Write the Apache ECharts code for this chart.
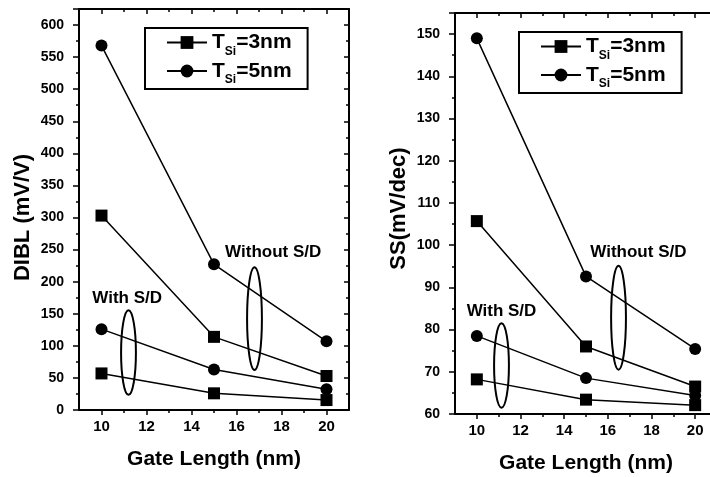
<!DOCTYPE html>
<html>
<head>
<meta charset="utf-8">
<script src="https://cdn.jsdelivr.net/npm/echarts@6/dist/echarts.min.js"></script>
<style>
  html, body { margin: 0; padding: 0; background: #fff; }
  #chart { width: 710px; height: 477px; }
</style>
</head>
<body>
<div id="chart"></div>
<script>
// ─── data ───
const gateLength = [10, 15, 20];

// DIBL (mV/V)
const dibl3NoSD = [303, 114, 53];
const dibl5NoSD = [568, 227, 107];
const dibl3SD = [57, 26, 15.5];
const dibl5SD = [126, 63, 32.5];

// SS (mV/dec)
const ss3NoSD = [105.7, 76, 66.5];
const ss5NoSD = [149, 92.6, 75.4];
const ss3SD = [68.2, 63.4, 62.1];
const ss5SD = [78.5, 68.5, 64.4];

const xMajorTicks = [10, 12, 14, 16, 18, 20];
const xMinorTicks = [11, 13, 15, 17, 19];

const seriesNames = ['TSi=3nm', 'TSi=5nm'];

// annotations (data coordinates): [x, y, text] and ovals [x, y, rx, ry]
const diblNotes = [[17.63, 246, 'Without S/D'], [11.14, 174, 'With S/D']];
const diblOvals = [[16.8, 142.5, 0.33, 80], [11.2, 89.6, 0.33, 66]];
const ssNotes = [[17.4, 98.2, 'Without S/D'], [11.13, 84.4, 'With S/D']];
const ssOvals = [[16.49, 82.8, 0.34, 12.3], [11.13, 71.5, 0.34, 10]];

// ─── style ───
const FONT = "'Liberation Sans', Arial, sans-serif";
const BLACK = '#000000';

const pairs = (ys) => gateLength.map((x, i) => [x, ys[i]]);

function xAxesFor(gi, name) {
  const base = { gridIndex: gi, type: 'value', min: 9, max: 21, splitLine: { show: false } };
  return [
    {
      ...base, position: 'bottom',
      name, nameLocation: 'middle', nameGap: 39,
      nameTextStyle: { fontFamily: FONT, fontWeight: 'bold', fontSize: 21, color: BLACK },
      axisLine: { lineStyle: { color: BLACK, width: 2 } },
      axisTick: { customValues: xMajorTicks, length: 5, lineStyle: { color: BLACK, width: 1.5 } },
      axisLabel: { customValues: xMajorTicks, margin: 9, fontFamily: FONT, fontWeight: 'bold', fontSize: 15, color: BLACK },
    },
    {
      ...base, position: 'bottom',
      axisLine: { show: false },
      axisTick: { customValues: xMinorTicks, length: 3, lineStyle: { color: BLACK, width: 1.5 } },
      axisLabel: { show: false },
    },
    {
      ...base, position: 'top',
      axisLine: { lineStyle: { color: BLACK, width: 2 } },
      axisTick: { inside: true, customValues: xMajorTicks, length: 5, lineStyle: { color: BLACK, width: 1.5 } },
      axisLabel: { show: false },
    },
    {
      ...base, position: 'top',
      axisLine: { show: false },
      axisTick: { inside: true, customValues: xMinorTicks, length: 3, lineStyle: { color: BLACK, width: 1.5 } },
      axisLabel: { show: false },
    },
  ];
}

function yAxesFor(gi, name, min, max, interval, namePad) {
  const base = { gridIndex: gi, type: 'value', min, max, interval, splitLine: { show: false } };
  return [
    {
      ...base, position: 'left',
      name, nameLocation: 'middle', nameGap: 45,
      nameTextStyle: { fontFamily: FONT, fontWeight: 'bold', fontSize: 22, color: BLACK, padding: namePad },
      axisLine: { lineStyle: { color: BLACK, width: 2 } },
      axisTick: { length: 6, lineStyle: { color: BLACK, width: 1.5 } },
      minorTick: { show: true, splitNumber: 2, length: 3, lineStyle: { color: BLACK, width: 1.5 } },
      axisLabel: { showMaxLabel: false, margin: 15, fontFamily: FONT, fontWeight: 'bold', fontSize: 14, color: BLACK },
    },
    {
      ...base, position: 'right',
      axisLine: { lineStyle: { color: BLACK, width: 2 } },
      axisTick: { inside: true, length: 5, lineStyle: { color: BLACK, width: 1.5 } },
      minorTick: { show: true, splitNumber: 2, length: 3, lineStyle: { color: BLACK, width: 1.5 } },
      axisLabel: { show: false },
    },
  ];
}

function lineSeries(name, symbol, data, xi, yi) {
  return {
    name, type: 'line', data, xAxisIndex: xi, yAxisIndex: yi,
    symbol, symbolSize: 12, showAllSymbol: true,
    lineStyle: { color: BLACK, width: 1.5 },
    itemStyle: { color: BLACK },
    emphasis: { disabled: true },
    animation: false, z: 3,
  };
}

function notesSeries(notes, ovals, xi, yi) {
  return [
    {
      type: 'custom', xAxisIndex: xi, yAxisIndex: yi, data: ovals, silent: true, animation: false, z: 4,
      renderItem(params, api) {
        const c = api.coord([api.value(0), api.value(1)]);
        const s = api.size([api.value(2), api.value(3)]);
        return {
          type: 'ellipse',
          shape: { cx: c[0], cy: c[1], rx: s[0], ry: s[1] },
          style: { fill: 'none', stroke: BLACK, lineWidth: 2 },
        };
      },
    },
    {
      type: 'custom', xAxisIndex: xi, yAxisIndex: yi, data: notes, silent: true, animation: false, z: 4,
      renderItem(params, api) {
        const c = api.coord([api.value(0), api.value(1)]);
        return {
          type: 'text', x: c[0], y: c[1],
          style: {
            text: notes[params.dataIndex][2],
            fontFamily: FONT, fontWeight: 'bold', fontSize: 17, fill: BLACK,
            align: 'center', verticalAlign: 'middle',
          },
        };
      },
    },
  ];
}

function legendFor(left, top) {
  return {
    left, top, orient: 'vertical',
    data: seriesNames,
    selectedMode: false,
    itemWidth: 40, itemHeight: 16, itemGap: 3,
    padding: [4, 16, 3, 21],
    borderColor: BLACK, borderWidth: 2,
    formatter: (n) => '{t|T}{s|Si}{t|' + n.slice(3) + '}',
    textStyle: {
      color: BLACK,
      rich: {
        t: { fontFamily: FONT, fontWeight: 'bold', fontSize: 21, lineHeight: 30, color: BLACK },
        s: { fontFamily: FONT, fontWeight: 'bold', fontSize: 12, lineHeight: 12, verticalAlign: 'bottom', color: BLACK },
      },
    },
  };
}

const chart = echarts.init(document.getElementById('chart'), null, { renderer: 'canvas' });

chart.setOption({
  backgroundColor: '#ffffff',
  animation: false,
  textStyle: { fontFamily: FONT },
  grid: [
    { left: 79, top: 9, width: 270, bottom: 67, outerBoundsMode: 'none' },
    { left: 455, top: 13, width: 262, bottom: 63, outerBoundsMode: 'none' },
  ],
  xAxis: [...xAxesFor(0, 'Gate Length (nm)'), ...xAxesFor(1, 'Gate Length (nm)')],
  yAxis: [
    ...yAxesFor(0, 'DIBL (mV/V)', 0, 625, 50, [0, 16, 0, 0]),
    ...yAxesFor(1, 'SS(mV/dec)', 60, 155, 10, [0, 0, 0, 10]),
  ],
  legend: [legendFor(145, 28), legendFor(519, 32)],
  series: [
    lineSeries(seriesNames[1], 'circle', pairs(dibl5NoSD), 0, 0),
    lineSeries(seriesNames[0], 'rect', pairs(dibl3NoSD), 0, 0),
    lineSeries(seriesNames[1], 'circle', pairs(dibl5SD), 0, 0),
    lineSeries(seriesNames[0], 'rect', pairs(dibl3SD), 0, 0),
    ...notesSeries(diblNotes, diblOvals, 0, 0),
    lineSeries(seriesNames[1], 'circle', pairs(ss5NoSD), 4, 2),
    lineSeries(seriesNames[0], 'rect', pairs(ss3NoSD), 4, 2),
    lineSeries(seriesNames[1], 'circle', pairs(ss5SD), 4, 2),
    lineSeries(seriesNames[0], 'rect', pairs(ss3SD), 4, 2),
    ...notesSeries(ssNotes, ssOvals, 4, 2),
  ],
});
</script>
</body>
</html>
